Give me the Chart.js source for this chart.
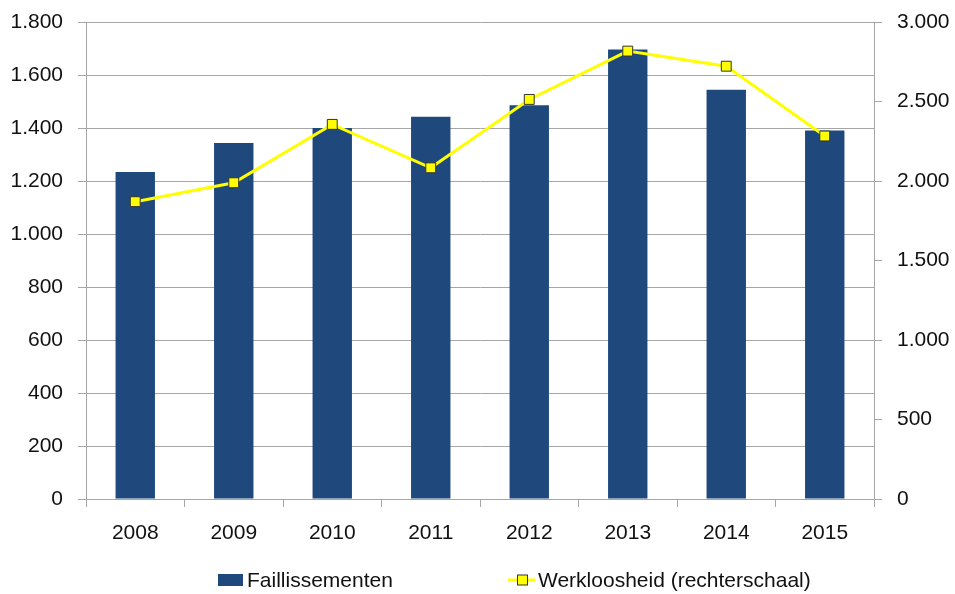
<!DOCTYPE html>
<html>
<head>
<meta charset="utf-8">
<script src="https://cdn.jsdelivr.net/npm/chart.js@4.4.1/dist/chart.umd.min.js"></script>
<style>
  html, body { margin: 0; padding: 0; background: #fff; }
  #wrap { width: 955px; height: 594px; position: relative; }
</style>
</head>
<body>
<div id="wrap"><canvas id="chart"></canvas></div>
<script>
// data
const years = ['2008', '2009', '2010', '2011', '2012', '2013', '2014', '2015'];
const faillissementen = [1234, 1343, 1400, 1442, 1486, 1696, 1544, 1391];
const werkloosheid = [1870, 1989, 2356, 2083, 2513, 2817, 2722, 2283];
const seriesLabels = ['Faillissementen', 'Werkloosheid (rechterschaal)'];

const FONT = "'Liberation Sans', Arial, sans-serif";
const FONT_SIZE = 21;
const BAR_COLOR = '#1f497d';
const LINE_COLOR = '#ffff00';
const GRID = '#a6a6a6';

// dutch thousands separator
const fmt = v => String(v).replace(/\B(?=(\d{3})+(?!\d))/g, '.');

// vertical axes: keep the tick padding from pushing the plot area down
const fitVertical = width => scale => {
  scale.width = width;
  scale.paddingTop = 0;
  scale.paddingBottom = 0;
};

// legend below the x axis, drawn by hand to get the excel look
const legendPlugin = {
  id: 'excelLegend',
  afterDraw(chart) {
    const ctx = chart.ctx;
    const y = 580;
    ctx.save();
    ctx.font = FONT_SIZE + 'px ' + FONT;
    ctx.textBaseline = 'middle';

    // bar item
    ctx.fillStyle = BAR_COLOR;
    ctx.fillRect(218, y - 6, 25, 12);
    ctx.fillStyle = '#111';
    ctx.fillText(seriesLabels[0], 247, y + 1);

    // line item
    ctx.strokeStyle = LINE_COLOR;
    ctx.lineWidth = 3;
    ctx.beginPath();
    ctx.moveTo(508, y);
    ctx.lineTo(535, y);
    ctx.stroke();
    ctx.fillStyle = LINE_COLOR;
    ctx.strokeStyle = '#333';
    ctx.lineWidth = 1;
    ctx.fillRect(517.5, y - 5, 10, 10);
    ctx.strokeRect(517.5, y - 5, 10, 10);
    ctx.fillStyle = '#111';
    ctx.fillText(seriesLabels[1], 538, y + 1);
    ctx.restore();
  }
};

new Chart(document.getElementById('chart'), {
  type: 'bar',
  data: {
    labels: years,
    datasets: [
      {
        type: 'line',
        label: seriesLabels[1],
        data: werkloosheid,
        yAxisID: 'y2',
        borderColor: LINE_COLOR,
        borderWidth: 3,
        backgroundColor: LINE_COLOR,
        pointStyle: 'rect',
        pointRadius: 7,
        pointBorderColor: '#333',
        pointBorderWidth: 1,
        pointBackgroundColor: LINE_COLOR,
        tension: 0,
        order: 0
      },
      {
        type: 'bar',
        label: seriesLabels[0],
        data: faillissementen,
        yAxisID: 'y',
        backgroundColor: BAR_COLOR,
        categoryPercentage: 1,
        barPercentage: 0.4,
        order: 1
      }
    ]
  },
  options: {
    responsive: true,
    maintainAspectRatio: false,
    animation: false,
    layout: { padding: { top: 22, left: 0, right: 0, bottom: 0 } },
    plugins: {
      legend: { display: false },
      tooltip: { enabled: false }
    },
    scales: {
      x: {
        offset: true,
        grid: {
          offset: true,
          drawOnChartArea: false,
          drawTicks: true,
          tickLength: 8,
          color: GRID
        },
        border: { color: GRID },
        ticks: {
          color: '#111',
          padding: 14,
          font: { family: FONT, size: FONT_SIZE }
        },
        afterFit(scale) {
          scale.height = 95;
          scale.paddingLeft = 0;
          scale.paddingRight = 0;
        }
      },
      y: {
        position: 'left',
        min: 0,
        max: 1800,
        grid: { color: GRID, tickLength: 8 },
        border: { color: GRID },
        ticks: {
          stepSize: 200,
          color: '#111',
          padding: 15,
          font: { family: FONT, size: FONT_SIZE },
          callback: v => fmt(v)
        },
        afterFit: fitVertical(86)
      },
      y2: {
        position: 'right',
        min: 0,
        max: 3000,
        grid: { drawOnChartArea: false, color: GRID, tickLength: 8 },
        border: { color: GRID },
        ticks: {
          stepSize: 500,
          color: '#111',
          padding: 15,
          font: { family: FONT, size: FONT_SIZE },
          callback: v => fmt(v)
        },
        afterFit: fitVertical(81)
      }
    }
  },
  plugins: [legendPlugin]
});
</script>
</body>
</html>
